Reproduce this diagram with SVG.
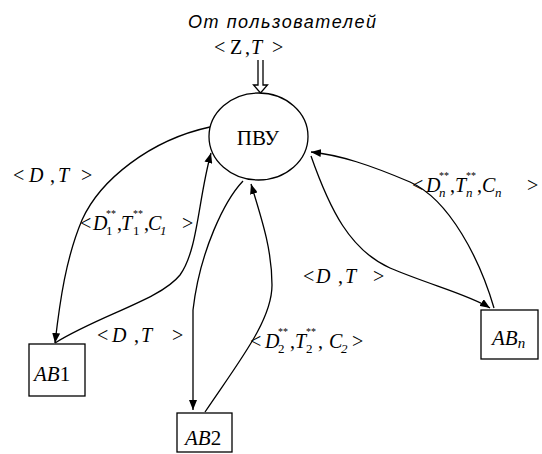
<svg xmlns="http://www.w3.org/2000/svg" width="542" height="454" viewBox="0 0 542 454">
<style>
.ln{fill:none;stroke:#000;stroke-width:1.3}
.nd{fill:#fff;stroke:#000;stroke-width:1.3}
.t{font-family:"Liberation Serif","Times New Roman",serif;font-size:20px;fill:#000}
.i{font-style:italic}
.sb{font-size:13px}
.sp{font-size:10px}
.bx{font-family:"Liberation Serif","Times New Roman",serif;font-size:21px;fill:#000}
</style>
<defs>
<marker id="ah" viewBox="0 0 10 8" refX="10" refY="4" markerWidth="10" markerHeight="8" markerUnits="userSpaceOnUse" orient="auto">
<path d="M0,0 L10,4 L0,8 z" fill="#000"/>
</marker>
</defs>
<rect width="542" height="454" fill="#fff"/>

<g id="source">
<text x="188" y="28" font-family="'Liberation Sans',Arial,sans-serif" font-style="italic" font-size="18" textLength="188" lengthAdjust="spacing">От пользователей</text>
<text class="t" y="54"><tspan x="214">&lt;</tspan><tspan x="230">Z</tspan><tspan x="245">,</tspan><tspan x="251" class="i">T</tspan><tspan x="272">&gt;</tspan></text>
<path class="ln" d="M258,60 V85 H253.5 L260.5,93 L267.5,85 H263 V60"/>
</g>

<g id="connectors">
<path class="ln" d="M210,127 C150,140 100,180 82,220 C66,258 60,300 55,343" marker-end="url(#ah)"/>
<path class="ln" d="M55,343 C100,315 160,300 180,275 C198,250 198,200 211,153" marker-end="url(#ah)"/>
<path class="ln" d="M243,181 C225,200 200,250 193,310 L193,410" marker-end="url(#ah)"/>
<path class="ln" d="M205,412 C240,360 272,320 272,285 C272,250 262,220 251,184" marker-end="url(#ah)"/>
<path class="ln" d="M311,156 C330,210 350,250 390,268 C430,285 470,295 490,308" marker-end="url(#ah)"/>
<path class="ln" d="M494,308 C480,260 450,200 410,182 C370,165 340,155 311,152" marker-end="url(#ah)"/>

<text class="t" y="182"><tspan x="13">&lt;</tspan><tspan x="29" class="i">D</tspan><tspan x="50">,</tspan><tspan x="58" class="i">T</tspan><tspan x="81">&gt;</tspan></text>

<text class="t" y="230"><tspan x="80">&lt;</tspan><tspan x="93" class="i">D</tspan><tspan x="106" y="235" class="sb">1</tspan><tspan x="106" y="217" class="sp">**</tspan><tspan x="117" y="230">,</tspan><tspan x="121" class="i">T</tspan><tspan x="133" y="235" class="sb">1</tspan><tspan x="133" y="217" class="sp">**</tspan><tspan x="144" y="230">,</tspan><tspan x="148" class="i">C</tspan><tspan x="160" y="235" class="sb i">1</tspan><tspan x="182" y="230">&gt;</tspan></text>

<text class="t" y="342"><tspan x="97">&lt;</tspan><tspan x="112" class="i">D</tspan><tspan x="134">,</tspan><tspan x="141" class="i">T</tspan><tspan x="172">&gt;</tspan></text>

<text class="t" y="283"><tspan x="303">&lt;</tspan><tspan x="316" class="i">D</tspan><tspan x="338">,</tspan><tspan x="345" class="i">T</tspan><tspan x="373">&gt;</tspan></text>

<text class="t" y="348"><tspan x="250">&lt;</tspan><tspan x="265" class="i">D</tspan><tspan x="278" y="353" class="sb">2</tspan><tspan x="278" y="335" class="sp">**</tspan><tspan x="290" y="348">,</tspan><tspan x="295" class="i">T</tspan><tspan x="306" y="353" class="sb">2</tspan><tspan x="306" y="335" class="sp">**</tspan><tspan x="318" y="348">,</tspan><tspan x="329" class="i">C</tspan><tspan x="341" y="353" class="sb i">2</tspan><tspan x="352" y="348">&gt;</tspan></text>

<text class="t" y="192"><tspan x="412">&lt;</tspan><tspan x="426" class="i">D</tspan><tspan x="439" y="197" class="sb i">n</tspan><tspan x="439" y="179" class="sp">**</tspan><tspan x="450" y="192">,</tspan><tspan x="455" class="i">T</tspan><tspan x="466" y="197" class="sb i">n</tspan><tspan x="466" y="179" class="sp">**</tspan><tspan x="477" y="192">,</tspan><tspan x="482" class="i">C</tspan><tspan x="495" y="197" class="sb i">n</tspan><tspan x="527" y="192">&gt;</tspan></text>
</g>

<g id="pvu">
<ellipse class="nd" cx="258.5" cy="136.5" rx="49.5" ry="43.5"/>
<text class="bx" x="258" y="145" text-anchor="middle">ПВУ</text>
</g>

<g id="ab1">
<rect class="nd" x="29" y="344" width="56" height="52"/>
<text class="bx" x="34" y="381"><tspan class="i">AB</tspan>1</text>
</g>

<g id="ab2">
<rect class="nd" x="177" y="413" width="55" height="39"/>
<text class="bx" x="185" y="445"><tspan class="i">AB</tspan>2</text>
</g>

<g id="abn">
<rect class="nd" x="481" y="310" width="57" height="49"/>
<text class="bx" x="492" y="345"><tspan class="i">AB</tspan><tspan class="i" font-size="15" dy="3">n</tspan></text>
</g>
</svg>
